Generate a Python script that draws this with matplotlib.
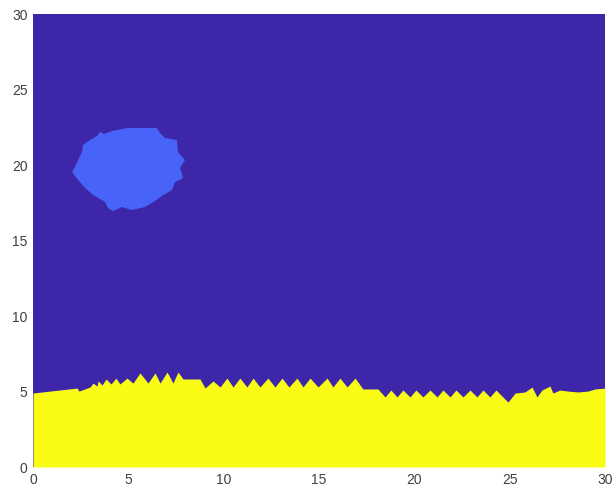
import numpy as np
import matplotlib.pyplot as plt

# ground surface profile (x, height)
ground_x = [0, 0.89, 2.31, 2.41, 2.99, 3.15, 3.36, 3.41, 3.62, 3.83, 4.09, 4.35, 4.56,
            4.93, 5.24, 5.61, 6.03, 6.40, 6.66, 7.03, 7.34, 7.60, 7.87, 8.76, 9.02,
            9.44, 9.81, 10.17, 10.49, 10.85, 11.22, 11.54, 11.90, 12.32, 12.69, 13.06,
            13.42, 13.84, 14.16, 14.53, 14.95, 15.42, 15.73, 16.10, 16.47, 16.89,
            17.30, 18.09, 18.46, 18.77, 19.09, 19.40, 19.77, 20.08, 20.45, 20.82,
            21.19, 21.50, 21.87, 22.18, 22.55, 22.92, 23.28, 23.60, 23.96, 24.28,
            24.91, 25.28, 25.80, 26.17, 26.43, 26.69, 27.11, 27.27, 27.63, 28.05,
            28.58, 29.10, 29.47, 30]
ground_y = [4.90, 5.03, 5.23, 5.03, 5.30, 5.56, 5.36, 5.70, 5.43, 5.83, 5.50, 5.89, 5.50,
            5.89, 5.56, 6.23, 5.56, 6.23, 5.56, 6.29, 5.56, 6.29, 5.83, 5.83, 5.23,
            5.70, 5.30, 5.89, 5.30, 5.89, 5.30, 5.89, 5.30, 5.89, 5.30, 5.89,
            5.30, 5.89, 5.30, 5.89, 5.30, 5.89, 5.30, 5.89, 5.30, 5.89,
            5.17, 5.17, 4.64, 5.10, 4.64, 5.10, 4.64, 5.10, 4.64, 5.10,
            4.64, 5.10, 4.64, 5.10, 4.64, 5.10, 4.64, 5.10, 4.64, 5.10,
            4.30, 4.90, 4.97, 5.30, 4.64, 5.10, 5.36, 4.90, 5.10, 5.03,
            4.97, 5.03, 5.17, 5.23]

# blob outline
blob_x = [4.93, 6.50, 6.66, 6.92, 7.55, 7.60, 7.97, 7.71, 7.87, 7.45, 7.29, 6.82, 6.40,
          5.87, 5.19, 4.67, 4.20, 3.93, 3.78, 3.15, 2.73, 2.46, 2.20, 2.05, 2.25, 2.36,
          2.57, 2.62, 2.99, 3.36, 3.51, 3.72, 4.14]
blob_y = [22.45, 22.45, 22.12, 21.79, 21.66, 20.86, 20.33, 19.80, 19.14, 18.87, 18.34,
          18.01, 17.62, 17.22, 17.02, 17.22, 16.95, 17.15, 17.55, 18.01, 18.48, 18.87,
          19.27, 19.54, 20.0, 20.33, 20.86, 21.32, 21.66, 21.92, 22.19, 22.05, 22.25]

xticks = [0, 5, 10, 15, 20, 25, 30]
yticks = [0, 5, 10, 15, 20, 25, 30]

plt.rcParams['font.family'] = ['Liberation Sans', 'DejaVu Sans']

fig = plt.figure(figsize=(6.16, 4.98), dpi=100)
ax = fig.add_axes([0.0536, 0.0622, 0.9286, 0.9096])
ax.set_facecolor('#3e26a8')
ax.fill_between(ground_x, 0, ground_y, color='#f9fb15', lw=0)
ax.fill(blob_x, blob_y, color='#4863f8', lw=0)

ax.set_xlim(0, 30)
ax.set_ylim(0, 30)
ax.set_xticks(xticks)
ax.set_yticks(yticks)
ax.tick_params(length=0, labelsize=10, colors='#404040', pad=4)
for s in ax.spines.values():
    s.set_visible(False)

fig.savefig('out.png', dpi=100)
